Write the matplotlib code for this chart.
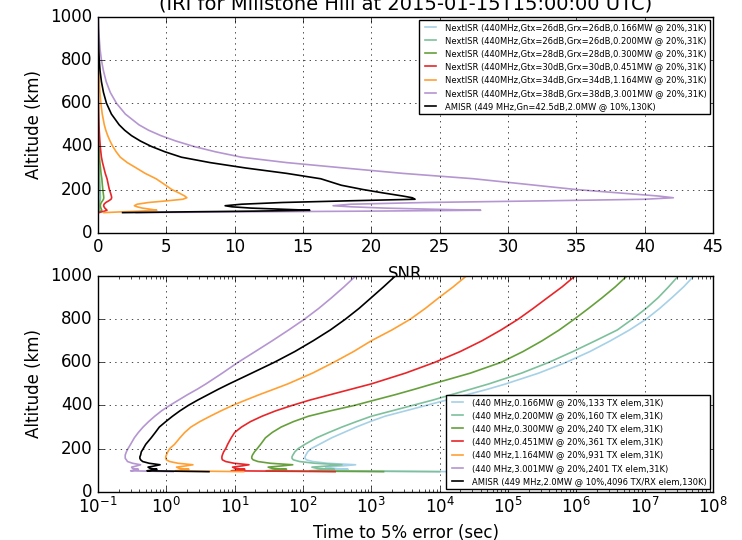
import matplotlib; matplotlib.use("Agg")
import matplotlib.pyplot as plt
import numpy as np

plt.style.use("classic")
plt.rcParams.update({"font.family": "DejaVu Sans", "figure.facecolor": "white",
                     "savefig.facecolor": "white", "mathtext.fontset": "dejavusans"})

# ---------------- data ----------------
alt = [93, 97, 100, 104, 108, 114, 120, 125, 132, 140, 148, 155, 162, 170, 185,
       200, 220, 250, 275, 300, 325, 350, 375, 400, 425, 450, 475, 500, 550, 600,
       650, 700, 750, 800, 850, 900, 950, 1000]

# SNR profiles
snr_0166 = [0.01, 0.042, 0.07, 0.098, 0.087, 0.073, 0.065, 0.06, 0.065, 0.083, 0.116, 0.141, 0.147, 0.143, 0.133,
            0.122, 0.111, 0.096, 0.078, 0.063, 0.048, 0.037, 0.03, 0.024, 0.02, 0.016, 0.013, 0.011, 0.007, 0.0047,
            0.0032, 0.0021, 0.0014, 0.0008, 0.0005, 0.0003, 0.0002, 0.0001]
snr_0200 = [0.012, 0.05, 0.084, 0.118, 0.105, 0.088, 0.078, 0.072, 0.078, 0.1, 0.14, 0.17, 0.177, 0.172, 0.16,
            0.147, 0.134, 0.116, 0.094, 0.076, 0.058, 0.044, 0.036, 0.029, 0.024, 0.019, 0.016, 0.013, 0.0084, 0.0056,
            0.0039, 0.0025, 0.0017, 0.001, 0.0006, 0.0004, 0.0002, 0.0001]
snr_0300 = [0.028, 0.12, 0.2, 0.28, 0.25, 0.21, 0.185, 0.17, 0.185, 0.24, 0.33, 0.4, 0.42, 0.41, 0.38,
            0.35, 0.32, 0.28, 0.22, 0.18, 0.14, 0.105, 0.086, 0.07, 0.057, 0.046, 0.037, 0.03, 0.02, 0.0134,
            0.0092, 0.0059, 0.004, 0.0025, 0.0015, 0.0009, 0.0005, 0.0003]
snr_0451 = [0.066, 0.29, 0.48, 0.66, 0.6, 0.5, 0.44, 0.41, 0.44, 0.57, 0.79, 0.95, 1.0, 0.98, 0.91,
            0.83, 0.76, 0.66, 0.53, 0.43, 0.33, 0.25, 0.205, 0.167, 0.136, 0.11, 0.088, 0.071, 0.048, 0.032,
            0.022, 0.014, 0.0096, 0.006, 0.0035, 0.0022, 0.0012, 0.0008]
snr_1164 = [0.43, 1.86, 3.1, 4.3, 3.9, 3.25, 2.86, 2.66, 2.86, 3.7, 5.1, 6.2, 6.5, 6.35, 5.9,
            5.4, 4.95, 4.25, 3.45, 2.8, 2.14, 1.63, 1.33, 1.08, 0.88, 0.71, 0.57, 0.46, 0.31, 0.21,
            0.14, 0.093, 0.062, 0.039, 0.023, 0.014, 0.008, 0.005]
snr_3001 = [2.8, 12, 20, 28, 25, 21, 18.5, 17.2, 18.5, 24, 33, 40, 42.1, 41, 38,
            35, 32, 27.5, 22.3, 18, 13.8, 10.5, 8.6, 7.0, 5.7, 4.6, 3.7, 3.0, 2.0, 1.35,
            0.9, 0.6, 0.4, 0.25, 0.15, 0.09, 0.05, 0.03]
snr_amisr = [1.8, 7, 11.5, 15.5, 13.8, 11.2, 9.8, 9.3, 10.5, 13.5, 18.5, 23.2, 23.0, 22.3, 20.8,
             19.4, 17.8, 16.3, 13.8, 10.8, 8.2, 6.1, 4.9, 3.9, 3.1, 2.45, 1.95, 1.55, 0.98, 0.62,
             0.4, 0.25, 0.15, 0.09, 0.05, 0.03, 0.015, 0.01]

# time to 5% error (sec)
t_0166 = [1.58e4, 195, 295, 457, 251, 214, 389, 589, 229, 138, 112, 107, 107, 110, 117, 132, 174,
          263, 398, 603, 955, 1580, 3160, 6310, 1.26e4, 2.51e4, 5.0e4, 9.3e4, 2.82e5, 7.1e5, 1.58e6,
          3.16e6, 6.0e6, 1.05e7, 1.66e7, 2.51e7, 3.72e7, 5.25e7]
t_0200 = [1e4, 126, 191, 288, 162, 135, 245, 372, 148, 89, 72, 69, 69, 71, 76, 85, 107,
          158, 240, 372, 603, 1000, 2000, 3980, 7940, 1.48e4, 2.82e4, 5.25e4, 1.58e5, 3.98e5, 8.9e5,
          1.9e6, 3.98e6, 6.6e6, 1.05e7, 1.58e7, 2.24e7, 3.1e7]
t_0300 = [1510, 28.8, 40.7, 57.5, 35.5, 30.9, 50, 70.8, 33.1, 21.9, 18.6, 17.8, 17.8, 18.2, 19.5, 21.4, 24,
          28.2, 35.5, 47.9, 72.4, 120, 251, 562, 1120, 2240, 4270, 7940, 2.82e4, 7.94e4, 1.66e5,
          3.16e5, 5.62e5, 9.33e5, 1.51e6, 2.4e6, 3.72e6, 5.5e6]
t_0451 = [295, 8.9, 11.2, 14.1, 10.2, 9.3, 12.9, 16.2, 9.8, 7.4, 6.6, 6.5, 6.5, 6.6, 6.9, 7.4, 7.9,
          8.9, 10, 12.6, 17, 25.1, 39.8, 69, 126, 251, 501, 1000, 3160, 8500, 2.0e4,
          4.17e4, 7.9e4, 1.41e5, 2.34e5, 3.8e5, 6.2e5, 9.55e5]
t_1164 = [13.5, 1.35, 1.7, 2.14, 1.55, 1.41, 1.95, 2.45, 1.48, 1.12, 1.0, 0.98, 0.98, 1.0, 1.05, 1.12, 1.32,
          1.58, 1.86, 2.29, 3.09, 4.37, 6.3, 9.3, 14.5, 22.9, 37.2, 60, 138, 282, 550,
          1000, 2000, 3720, 6170, 9770, 1.58e4, 2.45e4]
t_3001 = [1.26, 0.3, 0.34, 0.39, 0.32, 0.31, 0.37, 0.42, 0.32, 0.27, 0.26, 0.25, 0.25, 0.25, 0.26, 0.275, 0.3,
          0.34, 0.39, 0.457, 0.55, 0.676, 0.85, 1.12, 1.51, 2.04, 2.82, 3.8, 6.6, 11.2, 20,
          35.5, 61.7, 105, 170, 263, 398, 589]
t_amisr = [4.2, 0.52, 0.62, 0.73, 0.58, 0.54, 0.68, 0.81, 0.56, 0.45, 0.42, 0.41, 0.41, 0.42, 0.43, 0.46, 0.5,
           0.6, 0.69, 0.79, 0.98, 1.23, 1.58, 2.09, 2.88, 4.07, 5.75, 8.3, 17.8, 38, 75.9,
           141, 251, 417, 661, 1000, 1510, 2240]

snr_lab = ["NextISR (440MHz,Gtx=26dB,Grx=26dB,0.166MW @ 20%,31K)",
           "NextISR (440MHz,Gtx=26dB,Grx=26dB,0.200MW @ 20%,31K)",
           "NextISR (440MHz,Gtx=28dB,Grx=28dB,0.300MW @ 20%,31K)",
           "NextISR (440MHz,Gtx=30dB,Grx=30dB,0.451MW @ 20%,31K)",
           "NextISR (440MHz,Gtx=34dB,Grx=34dB,1.164MW @ 20%,31K)",
           "NextISR (440MHz,Gtx=38dB,Grx=38dB,3.001MW @ 20%,31K)",
           "AMISR (449 MHz,Gn=42.5dB,2.0MW @ 10%,130K)"]
t_lab = ["(440 MHz,0.166MW @ 20%,133 TX elem,31K)",
         "(440 MHz,0.200MW @ 20%,160 TX elem,31K)",
         "(440 MHz,0.300MW @ 20%,240 TX elem,31K)",
         "(440 MHz,0.451MW @ 20%,361 TX elem,31K)",
         "(440 MHz,1.164MW @ 20%,931 TX elem,31K)",
         "(440 MHz,3.001MW @ 20%,2401 TX elem,31K)",
         "AMISR (449 MHz,2.0MW @ 10%,4096 TX/RX elem,130K)"]

colors = ["#a6d1e6", "#7dc09b", "#66a03c", "#e8262a", "#ffa033", "#b596d1", "k"]
snr_all = [snr_0166, snr_0200, snr_0300, snr_0451, snr_1164, snr_3001, snr_amisr]
t_all = [t_0166, t_0200, t_0300, t_0451, t_1164, t_3001, t_amisr]

fig = plt.figure(figsize=(7.42, 5.4), dpi=100)
ax1 = fig.add_axes([0.1321, 0.5691, 0.8288, 0.3994])
ax2 = fig.add_axes([0.1321, 0.0894, 0.8288, 0.3994])

# ---------- SNR ----------
for s, c, lab in zip(snr_all, colors, snr_lab):
    ax1.plot(s, alt, color=c, lw=1.2, label=lab)
ax1.set_xlim(0, 45); ax1.set_ylim(0, 1000)
ax1.set_xticks(np.arange(0, 46, 5)); ax1.set_yticks(np.arange(0, 1001, 200))
ax1.grid(True)
ax1.set_xlabel("SNR", labelpad=6.5); ax1.set_ylabel("Altitude (km)")
ax1.legend(loc="upper right", fontsize=6, borderaxespad=0.3)

# ---------- time to 5% error ----------
for t, c, lab in zip(t_all, colors, t_lab):
    ax2.plot(t, alt, color=c, lw=1.2, label=lab)
ax2.set_xscale("log")
ax2.set_xlim(1e-1, 1e8); ax2.set_ylim(0, 1000)
ax2.set_yticks(np.arange(0, 1001, 200))
ax2.grid(True)
ax2.set_xlabel("Time to 5% error (sec)"); ax2.set_ylabel("Altitude (km)")
ax2.legend(loc="lower right", fontsize=6, borderaxespad=0.3)

fig.text(0.5465, 1 - 14 / 540, "(IRI for Millstone Hill at 2015-01-15T15:00:00 UTC)",
         ha="center", va="bottom", fontsize=14)

fig.savefig("out.png", dpi=100)
